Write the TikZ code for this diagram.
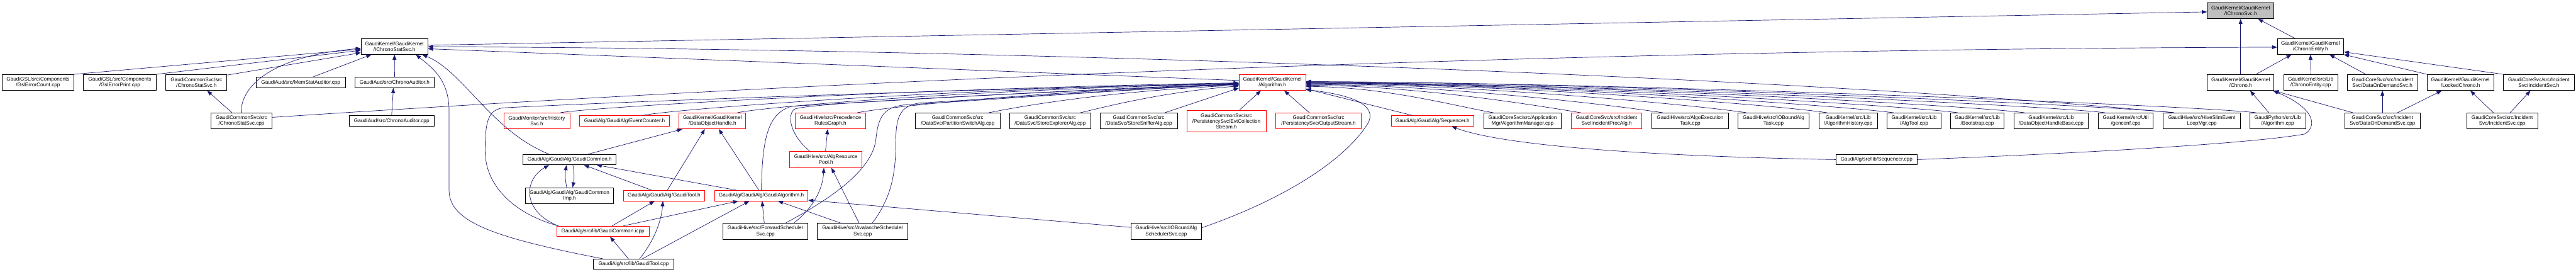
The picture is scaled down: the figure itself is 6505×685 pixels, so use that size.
\documentclass[tikz,border=0pt]{standalone}
\usepackage{fontspec}
\setmainfont{Liberation Sans}
\usetikzlibrary{arrows.meta}
\definecolor{navy}{HTML}{191970}
\definecolor{boxred}{HTML}{FF0000}
\definecolor{boxgray}{HTML}{BFBFBF}
\newcommand{\gnode}[7]{\node[#6, minimum width={#3-#2}, minimum height=#5] (#1) at ({(#2+#3)/2},{-#4}) {#7};}
\newcommand{\ralg}[6]{\draw[dep] ([xshift=#2]#1.north) .. controls +(#3,#4) and +(#5,-2) .. ([yshift=#6]algorithmh.east);}
\newcommand{\lalg}[6]{\draw[dep] ([xshift=#2]#1.north) .. controls +(#3,#4) and +(#5,-16) .. ([yshift=#6]algorithmh.west);}
\begin{document}
\begin{tikzpicture}[x=1pt,y=1pt,
 base/.style={draw, rectangle, inner sep=0pt, align=center, font=\fontsize{13}{14.5}\selectfont, line width=1.3pt},
 bbox/.style={base, draw=black},
 rbox/.style={base, draw=boxred},
 gbox/.style={base, draw=black, fill=boxgray},
 dep/.style={draw=navy, line width=1.1pt, -{Triangle[length=13pt,width=9.5pt]}},
]
\useasboundingbox (0,0) rectangle (6505,-685);
% row 0
\gnode{ichronosvc}{5574}{5742}{27}{40}{gbox}{GaudiKernel/GaudiKernel\\/IChronoSvc.h}
% row 1
\gnode{ichronostatsvc}{912}{1080}{117}{40}{bbox}{GaudiKernel/GaudiKernel\\/IChronoStatSvc.h}
\gnode{chronoentityh}{5751}{5918}{117}{40}{bbox}{GaudiKernel/GaudiKernel\\/ChronoEntity.h}
% row 2
\gnode{gslcount}{5}{187}{208}{40}{bbox}{GaudiGSL/src/Components\\/GslErrorCount.cpp}
\gnode{gslprint}{211}{394}{208}{40}{bbox}{GaudiGSL/src/Components\\/GslErrorPrint.cpp}
\gnode{chronostatsvch}{419}{573}{208}{40}{bbox}{GaudiCommonSvc/src\\/ChronoStatSvc.h}
\gnode{memstat}{647}{872}{208}{26}{bbox}{GaudiAud/src/MemStatAuditor.cpp}
\gnode{chronoaudh}{897}{1096}{208}{26}{bbox}{GaudiAud/src/ChronoAuditor.h}
\gnode{algorithmh}{3129}{3297}{208}{40}{rbox}{GaudiKernel/GaudiKernel\\/Algorithm.h}
\gnode{chronoh}{5574}{5742}{208}{40}{bbox}{GaudiKernel/GaudiKernel\\/Chrono.h}
\gnode{chronoentitycpp}{5767}{5903}{208}{40}{bbox}{GaudiKernel/src/Lib\\/ChronoEntity.cpp}
\gnode{dodsvch}{5927}{6105}{208}{40}{bbox}{GaudiCoreSvc/src/Incident\\Svc/DataOnDemandSvc.h}
\gnode{lockedchrono}{6129}{6297}{208}{40}{bbox}{GaudiKernel/GaudiKernel\\/LockedChrono.h}
\gnode{incidentsvch}{6321}{6501}{208}{40}{bbox}{GaudiCoreSvc/src/Incident\\Svc/IncidentSvc.h}
% row 3
\gnode{chronostatsvccpp}{533}{687}{305}{40}{bbox}{GaudiCommonSvc/src\\/ChronoStatSvc.cpp}
\gnode{chronoaudcpp}{882}{1096}{305}{26}{bbox}{GaudiAud/src/ChronoAuditor.cpp}
\gnode{historysvc}{1272}{1439}{305}{40}{rbox}{GaudiMonitor/src/History\\Svc.h}
\gnode{eventcounter}{1464}{1690}{305}{26}{rbox}{GaudiAlg/GaudiAlg/EventCounter.h}
\gnode{dohandle}{1715}{1883}{305}{40}{rbox}{GaudiKernel/GaudiKernel\\/DataObjectHandle.h}
\gnode{precedence}{2008}{2186}{305}{40}{rbox}{GaudiHive/src/Precedence\\RulesGraph.h}
\gnode{partswitch}{2312}{2525}{305}{40}{bbox}{GaudiCommonSvc/src\\/DataSvc/PartitionSwitchAlg.cpp}
\gnode{storeexpl}{2550}{2754}{305}{40}{bbox}{GaudiCommonSvc/src\\/DataSvc/StoreExplorerAlg.cpp}
\gnode{storesniff}{2778}{2973}{305}{40}{bbox}{GaudiCommonSvc/src\\/DataSvc/StoreSnifferAlg.cpp}
\gnode{evtcoll}{2997}{3197}{305.5}{55}{rbox}{GaudiCommonSvc/src\\/PersistencySvc/EvtCollection\\Stream.h}
\gnode{outputstream}{3222}{3437}{305}{40}{rbox}{GaudiCommonSvc/src\\/PersistencySvc/OutputStream.h}
\gnode{sequencerh}{3513}{3722}{305}{26}{rbox}{GaudiAlg/GaudiAlg/Sequencer.h}
\gnode{algmgr}{3747}{3943}{305}{40}{bbox}{GaudiCoreSvc/src/Application\\Mgr/AlgorithmManager.cpp}
\gnode{incprocalg}{3968}{4146}{305}{40}{rbox}{GaudiCoreSvc/src/Incident\\Svc/IncidentProcAlg.h}
\gnode{algoexec}{4171}{4365}{305}{40}{bbox}{GaudiHive/src/AlgoExecution\\Task.cpp}
\gnode{ioboundtask}{4389}{4568}{305}{40}{bbox}{GaudiHive/src/IOBoundAlg\\Task.cpp}
\gnode{alghist}{4593}{4741}{305}{40}{bbox}{GaudiKernel/src/Lib\\/AlgorithmHistory.cpp}
\gnode{algtool}{4765}{4902}{305}{40}{bbox}{GaudiKernel/src/Lib\\/AlgTool.cpp}
\gnode{bootstrap}{4925}{5061}{305}{40}{bbox}{GaudiKernel/src/Lib\\/Bootstrap.cpp}
\gnode{dohbase}{5086}{5273}{305}{40}{bbox}{GaudiKernel/src/Lib\\/DataObjectHandleBase.cpp}
\gnode{genconf}{5299}{5437}{305}{40}{bbox}{GaudiKernel/src/Util\\/genconf.cpp}
\gnode{hiveslim}{5462}{5658}{305}{40}{bbox}{GaudiHive/src/HiveSlimEvent\\LoopMgr.cpp}
\gnode{gpalg}{5681}{5822}{305}{40}{bbox}{GaudiPython/src/Lib\\/Algorithm.cpp}
\gnode{dodsvccpp}{5921}{6111}{305}{40}{bbox}{GaudiCoreSvc/src/Incident\\Svc/DataOnDemandSvc.cpp}
\gnode{incidentsvccpp}{6229}{6408}{305}{40}{bbox}{GaudiCoreSvc/src/Incident\\Svc/IncidentSvc.cpp}
% row 4
\gnode{gaudicommonh}{1321}{1556}{402.5}{26}{bbox}{GaudiAlg/GaudiAlg/GaudiCommon.h}
\gnode{algrespool}{1994}{2177}{402.5}{40}{rbox}{GaudiHive/src/AlgResource\\Pool.h}
\gnode{sequencercpp}{4636}{4841}{402.5}{26}{bbox}{GaudiAlg/src/lib/Sequencer.cpp}
% row 5
\gnode{gaudicommonimp}{1327}{1549}{493.5}{40}{bbox}{GaudiAlg/GaudiAlg/GaudiCommon\\Imp.h}
\gnode{gaudicoolh}{1574}{1780}{493.5}{26}{rbox}{GaudiAlg/GaudiAlg/GaudiTool.h}
\gnode{gaudialgh}{1805}{2040}{493.5}{26}{rbox}{GaudiAlg/GaudiAlg/GaudiAlgorithm.h}
% row 6
\gnode{gaudicommonicpp}{1406}{1639}{583.5}{26}{rbox}{GaudiAlg/src/lib/GaudiCommon.icpp}
\gnode{fwdsched}{1826}{2040}{583.5}{40}{bbox}{GaudiHive/src/ForwardScheduler\\Svc.cpp}
\gnode{avalanche}{2064}{2293}{583.5}{40}{bbox}{GaudiHive/src/AvalancheScheduler\\Svc.cpp}
\gnode{ioboundsched}{2856}{3034}{583.5}{40}{bbox}{GaudiHive/src/IOBoundAlg\\SchedulerSvc.cpp}
% row 7
\gnode{gaudicoolcpp}{1499}{1701}{666.5}{26}{bbox}{GaudiAlg/src/lib/GaudiTool.cpp}

% ---- edges towards IChronoSvc.h
\draw[dep] ([yshift=3]ichronostatsvc.east) -- ([yshift=-3]ichronosvc.west);
\draw[dep] (chronoh.north) -- (ichronosvc.south);
\draw[dep] ([xshift=-40]chronoentityh.north) -- ([xshift=44]ichronosvc.south);
% ---- edges towards IChronoStatSvc.h
\draw[dep] (gslcount.north east) -- ([yshift=-7]ichronostatsvc.west);
\draw[dep] (gslprint.north east) -- ([yshift=-10]ichronostatsvc.west);
\draw[dep] ([yshift=-2]chronostatsvch.north east) -- ([yshift=-16]ichronostatsvc.west);
\draw[dep] ([xshift=-1]chronostatsvccpp.north) .. controls (608,-210) and (700,-140) .. ([yshift=-5]ichronostatsvc.west);
\draw[dep] ([xshift=30]memstat.north) -- ([xshift=-58]ichronostatsvc.south);
\draw[dep] (chronoaudh.north) -- (ichronostatsvc.south);
\draw[dep] ([yshift=5]algorithmh.west) -- ([yshift=-6]ichronostatsvc.east);
\draw[dep] ([xshift=-70]hiveslim.north) .. controls (4500,-190) and (2500,-122) .. ([yshift=-1]ichronostatsvc.east);
\draw[dep] ([xshift=-52]gaudicommonh.north) .. controls (1240,-330) and (1170,-180) .. ([xshift=70]ichronostatsvc.south);
\draw[dep] ([xshift=-77]gaudicoolcpp.north) .. controls (1250,-600) and (1134,-560) .. (1134,-480) -- (1134,-280) .. controls (1134,-200) and (1090,-170) .. ([xshift=54]ichronostatsvc.south);
% ---- chrono auditor / chrono stat svc
\draw[dep] (chronoaudcpp.north) -- ([xshift=-3]chronoaudh.south);
\draw[dep] ([xshift=-24]chronostatsvccpp.north) -- ([xshift=27]chronostatsvch.south);
\draw[dep] ([yshift=9]chronostatsvccpp.east) .. controls (2000,-210) and (3800,-125) .. ([yshift=-2]chronoentityh.west);
% ---- edges towards Algorithm.h from the left
\lalg{historysvc}{59.5}{60}{12}{-900}{-1}
\lalg{eventcounter}{45}{60}{14}{-800}{-2}
\lalg{dohandle}{63}{60}{14}{-700}{-3}
\lalg{precedence}{68}{60}{13}{-500}{-5}
\lalg{partswitch}{78}{70}{14}{-350}{-7}
\lalg{storeexpl}{76}{60}{14}{-200}{-9}
\draw[dep] ([xshift=66]storesniff.north) -- ([yshift=-14]algorithmh.west);
\draw[dep] ([xshift=33]evtcoll.north) -- ([xshift=-29]algorithmh.south);
\draw[dep] ([xshift=-23]outputstream.north) -- ([xshift=30]algorithmh.south);
\draw[dep] ([xshift=5]gaudicommonicpp.north west) .. controls (1300,-540) and (1225,-470) .. (1225,-380) .. controls (1225,-300) and (1235,-278) .. (1270,-272) .. controls (1700,-250) and (2700,-218) .. ([yshift=-3]algorithmh.west);
\draw[dep] (gaudialgh.north) .. controls (1925,-360) and (1935,-285) .. (2000,-268) .. controls (2400,-245) and (2800,-222) .. ([yshift=-4]algorithmh.west);
\draw[dep] ([xshift=-40]algrespool.north) .. controls (2000,-345) and (1985,-295) .. (2005,-276) .. controls (2030,-258) and (2700,-230) .. ([yshift=-4]algorithmh.west);
\draw[dep] ([xshift=50]fwdsched.north) .. controls (2120,-490) and (2205,-420) .. (2212,-350) .. controls (2218,-290) and (2235,-272) .. (2280,-265) .. controls (2600,-245) and (2900,-222) .. ([yshift=-5]algorithmh.west);
\draw[dep] ([xshift=24]avalanche.north) .. controls (2250,-500) and (2262,-440) .. (2262,-360) .. controls (2262,-290) and (2275,-268) .. (2320,-260) .. controls (2650,-240) and (2900,-222) .. ([yshift=-5]algorithmh.west);
\draw[dep] ([yshift=9]ioboundsched.east) .. controls (3250,-500) and (3400,-400) .. (3455,-310) .. controls (3480,-260) and (3400,-238) .. ([yshift=-18]algorithmh.east);
% ---- edges towards Algorithm.h from the right
\draw[dep] ([xshift=-50]sequencerh.north) -- ([yshift=-16]algorithmh.east);
\ralg{algmgr}{-74}{-110}{20}{200}{-10}
\ralg{incprocalg}{-65}{-120}{20}{280}{-7}
\ralg{algoexec}{-69}{-130}{20}{350}{-5}
\ralg{ioboundtask}{-68}{-130}{20}{420}{-3}
\ralg{alghist}{-53}{-130}{20}{500}{-2}
\ralg{algtool}{-52}{-130}{18}{550}{-1}
\ralg{bootstrap}{-49}{-130}{18}{600}{-1}
\ralg{dohbase}{-67}{-130}{18}{650}{0}
\ralg{genconf}{-52}{-140}{18}{700}{0}
\ralg{hiveslim}{-70}{-150}{18}{750}{2}
\ralg{gpalg}{-54}{-150}{18}{800}{2}
% ---- GaudiAlg cluster
\draw[dep] ([xshift=46.5]gaudicommonh.north) -- ([xshift=-76]dohandle.south);
\draw[dep] ([xshift=-7]gaudicommonimp.north) .. controls +(-4,20) and +(-4,-20) .. ([xshift=-7.5]gaudicommonh.south);
\draw[dep] ([xshift=8]gaudicommonh.south) .. controls +(4,-20) and +(4,20) .. ([xshift=8]gaudicommonimp.north);
\draw[dep] ([xshift=5]gaudicommonicpp.north west) .. controls (1320,-535) and (1320,-455) .. ([xshift=-52]gaudicommonh.south);
\draw[dep] ([xshift=23]gaudicommonicpp.north) -- ([xshift=-24]gaudicoolh.south);
\draw[dep] ([xshift=51]gaudicommonicpp.north) -- ([xshift=-58]gaudialgh.south);
\draw[dep] ([xshift=-31]gaudicoolh.north) -- ([xshift=36]gaudicommonh.south);
\draw[dep] ([xshift=8]gaudicoolh.north) -- ([xshift=-19]dohandle.south);
\draw[dep] ([xshift=-62]gaudialgh.north) -- ([xshift=68]gaudicommonh.south);
\draw[dep] ([xshift=-6]gaudialgh.north) -- ([xshift=16]dohandle.south);
\draw[dep] ([xshift=-13]gaudicoolcpp.north) -- ([xshift=18]gaudicommonicpp.south);
\draw[dep] ([xshift=15]gaudicoolcpp.north) .. controls (1650,-610) and (1670,-560) .. ([xshift=-3]gaudicoolh.south);
\draw[dep] ([xshift=22]gaudicoolcpp.north) -- ([xshift=-30]gaudialgh.south);
\draw[dep] ([xshift=-3]fwdsched.north) -- ([xshift=2]gaudialgh.south);
\draw[dep] ([xshift=71]fwdsched.north) .. controls (2060,-520) and (2078,-470) .. ([xshift=-5]algrespool.south);
\draw[dep] ([xshift=-55]avalanche.north) -- ([xshift=42]gaudialgh.south);
\draw[dep] ([xshift=-9]avalanche.north) -- ([xshift=14]algrespool.south);
\draw[dep] ([yshift=10]ioboundsched.west) -- ([yshift=-11.5]gaudialgh.east);
\draw[dep] ([xshift=-1]algrespool.north) -- ([xshift=-7]precedence.south);
% ---- sequencer
\draw[dep] (sequencercpp.west) .. controls (4200,-395) and (3800,-370) .. ([xshift=48]sequencerh.south);
\draw[dep] (sequencercpp.east) .. controls (5300,-385) and (5700,-360) .. (5820,-338) .. controls (5850,-320) and (5850,-275) .. ([xshift=-3]chronoh.south east);
% ---- Chrono cluster
\draw[dep] ([xshift=-22]gpalg.north) -- ([xshift=24]chronoh.south);
\draw[dep] ([xshift=-74]dodsvccpp.north) -- ([xshift=-1]chronoh.south east);
\draw[dep] (dodsvccpp.north) -- (dodsvch.south);
\draw[dep] ([xshift=38]dodsvccpp.north) -- ([xshift=-47]lockedchrono.south);
\draw[dep] ([xshift=-22]incidentsvccpp.north) -- ([xshift=25]lockedchrono.south);
\draw[dep] ([xshift=20]incidentsvccpp.north) -- ([xshift=-21]incidentsvch.south);
\draw[dep] ([xshift=39]chronoh.north) -- ([xshift=-48]chronoentityh.south);
\draw[dep] (chronoentitycpp.north) -- (chronoentityh.south);
\draw[dep] ([xshift=-42]dodsvch.north) -- ([xshift=48]chronoentityh.south);
\draw[dep] (lockedchrono.north west) -- (chronoentityh.south east);
\draw[dep] (incidentsvch.north west) -- ([yshift=-14]chronoentityh.east);
\end{tikzpicture}
\end{document}
